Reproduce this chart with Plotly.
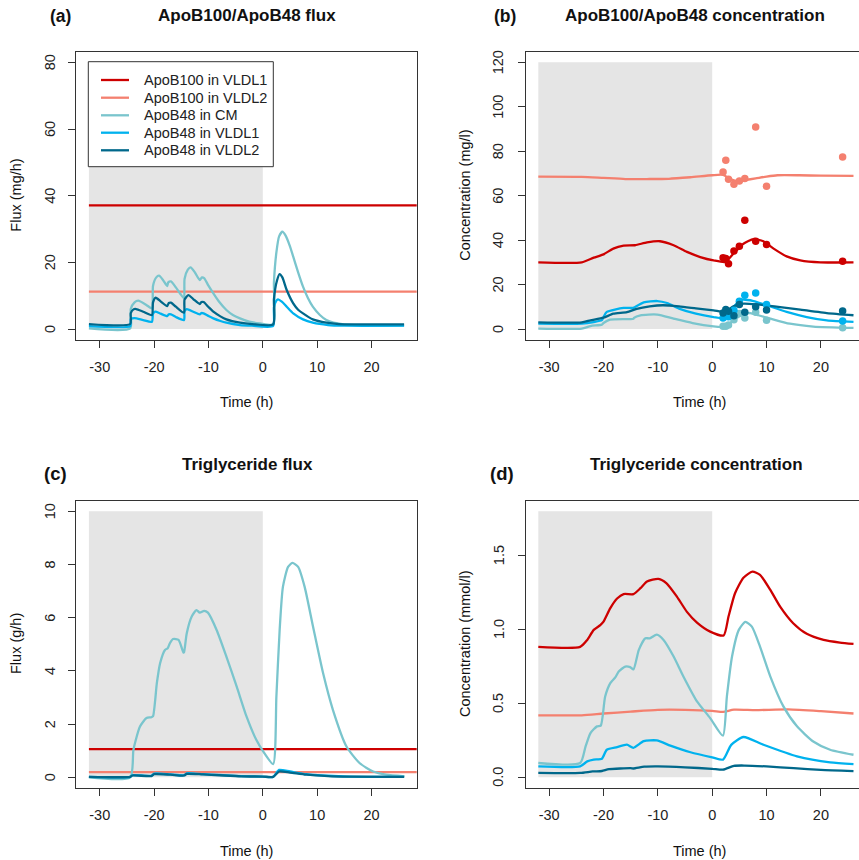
import plotly.graph_objects as go

W, H = 859, 860
FONT = "Liberation Sans, Arial, sans-serif"

# colours
C_B100_V1 = "#CD0000"
C_B100_V2 = "#F4806F"
C_CM = "#7AC5CD"
C_V1 = "#00B2EE"
C_V2 = "#00688B"

names = ["ApoB100 in VLDL1", "ApoB100 in VLDL2", "ApoB48 in CM", "ApoB48 in VLDL1", "ApoB48 in VLDL2"]
colors = [C_B100_V1, C_B100_V2, C_CM, C_V1, C_V2]

# ---------------- (a) ApoB100/ApoB48 flux (mg/h) ----------------
a_t_b100 = [-32, 29]
a_b100_v1 = [37.1, 37.1]
a_b100_v2 = [11.2, 11.2]

a_t_cm = [-32, -24.4, -24.3, -23.6, -22.9, -21.5, -20.4, -20.2, -19.6, -19.1, -18.4, -17.6, -17.4, -16.9,
          -16.0, -15.2, -14.5, -14.4, -13.8, -13.3, -12.5, -11.6, -11.2, -10.8, -10.0, -9.1, -8.0, -6.7,
          -5.5, -4.2, -2.5, -0.5, 1.9, 2.05, 2.5, 3.0, 3.6, 4.2, 5.0, 5.6, 6.5, 7.4, 8.3, 9.2, 10.5, 11.7,
          13.0, 14.6, 17.0, 20.0, 26.0]
a_cm = [0.2, 0.2, 6.0, 8.0, 8.5, 7.3, 6.2, 13.0, 15.5, 16.0, 14.8, 12.9, 14.0, 14.3,
        12.5, 10.6, 9.2, 15.0, 17.8, 18.5, 17.0, 14.7, 15.5, 15.3, 13.0, 10.7, 8.1, 5.7,
        4.2, 3.2, 2.2, 1.7, 1.4, 14.0, 23.0, 27.8, 29.2, 28.0, 24.8, 21.7, 17.0, 12.7, 9.3, 6.7, 4.2, 2.7,
        1.9, 1.5, 1.2, 1.0, 1.0]

a_t_v2 = [-32, -24.4, -24.3, -23.8, -23.3, -22.0, -20.4, -20.2, -19.7, -18.8, -17.6, -17.3, -16.9, -16.0,
          -14.5, -14.4, -13.7, -12.8, -11.6, -11.3, -10.9, -10.0, -9.1, -7.8, -6.7, -4.2, -2.0, 1.9, 2.05,
          2.6, 3.1, 3.6, 4.4, 5.6, 6.5, 7.4, 9.2, 11.7, 14.0, 26.0]
a_v2 = [1.5, 1.5, 4.8, 5.9, 6.0, 5.2, 4.2, 8.0, 9.4, 8.3, 6.9, 7.8, 7.9, 6.7,
        4.9, 8.8, 10.2, 9.0, 7.5, 8.1, 8.1, 6.6, 5.2, 3.8, 2.9, 1.9, 1.5, 1.4, 9.0,
        14.5, 16.5, 15.5, 11.7, 7.7, 5.8, 4.7, 2.9, 1.9, 1.5, 1.4]

a_t_v1 = [-32, -24.4, -24.3, -23.6, -22.0, -20.4, -20.2, -19.8, -18.8, -17.6, -17.3, -16.9, -16.0, -14.5,
          -14.4, -14.0, -12.8, -11.6, -11.3, -10.9, -10.0, -9.1, -7.8, -6.7, -4.2, -2.0, 1.9, 2.05, 2.5,
          2.8, 3.5, 4.4, 5.6, 7.4, 9.2, 12.0, 15.0, 26.0]
a_v1 = [0.9, 0.9, 3.0, 3.3, 2.7, 2.2, 4.6, 5.2, 4.6, 3.9, 4.4, 4.4, 3.6, 2.7,
        5.3, 6.0, 5.2, 4.4, 4.8, 4.7, 3.9, 3.2, 2.4, 1.9, 1.2, 1.0, 0.9, 6.5, 8.5,
        8.9, 8.2, 6.7, 4.7, 2.9, 1.9, 1.2, 1.0, 1.0]

# ---------------- (b) ApoB100/ApoB48 concentration (mg/l) ----------------
b_t_b100v1 = [-32, -24, -21.8, -20, -18.2, -16.3, -14.2, -12, -9.6, -7.1, -4.65, -2.2, 0.25, 2.4, 3.9,
              5.75, 7.6, 9.4, 11.3, 13.7, 16.2, 19.9, 26]
b_b100v1 = [30.0, 30.0, 32.1, 33.6, 36.2, 37.5, 37.7, 39.0, 39.5, 37.7, 34.7, 32.4, 30.9, 30.2, 33.9,
            38.4, 40.5, 39.5, 36.2, 32.7, 30.9, 30.0, 30.0]
b_t_b100v2 = [-32, -24, -20, -16, -12, -8, -4, 0, 2, 3, 4, 5, 6, 8, 10, 12, 16, 20, 26]
b_b100v2 = [68.6, 68.5, 68.0, 67.5, 67.5, 67.6, 68.3, 69.2, 69.4, 68.0, 66.9, 66.6, 67.0, 67.8, 68.6,
            69.2, 69.2, 69.0, 68.9]
b_t_cm = [-32, -24, -22.4, -20.3, -20, -18.8, -14.5, -14.4, -13.2, -10.1, -7.1, -3.6, 0.25, 2.0, 2.4,
          3.9, 5.5, 7.0, 8.5, 10.7, 14.3, 18.6, 26]
b_cm = [0.2, 0.2, 1.35, 2.0, 2.7, 4.2, 4.6, 5.0, 6.2, 6.5, 4.7, 2.7, 1.2, 0.9, 0.9,
        3.9, 6.5, 7.2, 6.2, 4.7, 2.4, 1.1, 0.5]
b_t_v1 = [-32, -24, -21.8, -20.3, -20, -19.4, -16.3, -14.5, -14.2, -12.6, -10.1, -8.3, -6.1, -3, 0.25,
          2.1, 3.9, 5.4, 7.6, 10, 13.7, 17.4, 21.1, 26]
b_v1 = [2.4, 2.4, 3.15, 4.0, 5.4, 7.7, 9.5, 9.5, 9.9, 12.0, 12.6, 11.7, 9.2, 6.9, 5.4,
        4.95, 9.9, 13.2, 12.6, 10.7, 7.7, 5.4, 3.9, 3.2]
b_t_v2 = [-32, -24, -22.4, -20, -18.2, -15.7, -13.9, -11.5, -9.1, -6.1, -3.0, 0.25, 2.4, 3.9, 5.75,
          8.2, 12.5, 16.2, 21.1, 26]
b_v2 = [3.0, 3.0, 3.9, 5.1, 6.9, 7.6, 9.1, 10.2, 10.7, 10.2, 9.3, 8.4, 7.7, 10.2, 11.4,
        11.1, 9.9, 8.7, 7.2, 6.2]

# observed samples
obs_t = [2, 2.5, 3, 4, 5, 6, 8, 10, 24]
obs_b100v2 = [70.7, 75.9, 67.4, 65.1, 66.6, 67.7, 90.9, 64.2, 77.4]
obs_b100v1 = [32.1, 31.7, 29.4, 35.1, 37.2, 48.9, 39.5, 38.0, 30.5]
obs_cm = [1.2, 1.3, 1.8, 4.2, 7.0, 5.0, 7.5, 4.0, 0.6]
obs_v1 = [5.0, 6.5, 5.5, 8.5, 12.5, 15.2, 16.2, 11.0, 3.6]
obs_v2 = [7.2, 8.8, 8.0, 6.0, 11.0, 7.5, 10.0, 8.6, 8.1]

# ---------------- (c) Triglyceride flux (g/h) ----------------
c_t_b100 = [-32, 29]
c_v1_const = [1.065, 1.065]
c_v2_const = [0.2, 0.2]
c_t_cm = [-32, -24.4, -23.8, -22.6, -21.4, -20.5, -20.2, -19.5, -18.9, -18.0, -17.5, -17.1, -16.5, -15.5,
          -14.6, -14.5, -14.0, -13.1, -12.2, -11.6, -10.8, -10.1, -8.5, -6.7, -4.8, -3.0, -1.2, 0.06, 1.9,
          2.5, 3.1, 3.7, 4.65, 5.45, 6.5, 7.7, 9.25, 11.1, 12.9, 15.4, 17.8, 20.3, 22.7, 26.1]
c_cm = [0.0, 0.0, 1.04, 1.91, 2.23, 2.26, 2.3, 3.54, 4.29, 4.79, 4.85, 5.04, 5.2, 5.17,
        4.69, 4.7, 5.41, 6.04, 6.29, 6.19, 6.26, 6.19, 5.54, 4.54, 3.41, 2.29, 1.41, 0.98, 0.5,
        3.04, 5.54, 7.16, 7.91, 8.06, 7.91, 7.16, 5.66, 3.91, 2.54, 1.16, 0.54, 0.22, 0.10, 0.04]
c_t_small = [-32, -24.4, -24.0, -20.5, -20.0, -17.0, -14.5, -14.0, -11.0, -8.0, -4.0, 0.0, 1.9, 3.0, 5.0,
             8.0, 12.0, 16.0, 26.0]
c_v1 = [0.02, 0.02, 0.08, 0.06, 0.14, 0.11, 0.08, 0.15, 0.12, 0.09, 0.05, 0.03, 0.02, 0.28, 0.22,
        0.12, 0.06, 0.03, 0.02]
c_v2 = [0.02, 0.02, 0.07, 0.05, 0.12, 0.10, 0.07, 0.13, 0.11, 0.08, 0.04, 0.03, 0.02, 0.22, 0.18,
        0.10, 0.05, 0.03, 0.02]

# ---------------- (d) Triglyceride concentration (mmol/l) ----------------
d_t_b100v1 = [-32, -24.3, -23.0, -21.8, -20.6, -20.0, -18.75, -17.5, -16.3, -14.5, -13.2, -12.0, -9.9, -8.4,
              -6.5, -4.65, -2.8, -0.37, 2.1, 3.0, 4.2, 5.75, 7.4, 8.8, 10.7, 12.5, 14.9, 17.4, 20.5, 23.5, 26.0]
d_b100v1 = [0.883, 0.883, 0.93, 0.998, 1.03, 1.054, 1.145, 1.21, 1.24, 1.24, 1.28, 1.325, 1.343, 1.313,
            1.223, 1.12, 1.047, 0.986, 0.96, 1.088, 1.246, 1.351, 1.392, 1.37, 1.268, 1.155, 1.043, 0.971,
            0.93, 0.912, 0.903]
d_t_b100v2 = [-32, -24, -20, -15, -10, -5, 0, 2, 4, 8, 14, 20, 26]
d_b100v2 = [0.42, 0.42, 0.432, 0.445, 0.457, 0.457, 0.45, 0.443, 0.458, 0.455, 0.46, 0.448, 0.432]
d_t_cm = [-32, -24.3, -23.3, -22.4, -21.2, -20.5, -19.7, -18.75, -17.8, -17.2, -16.0, -15.1, -14.5, -13.5,
          -12.3, -11.5, -10.2, -8.95, -7.1, -5.3, -2.8, -0.37, 1.97, 2.7, 3.65, 4.9, 6.1, 7.3, 8.8, 10.7,
          13.1, 15.6, 18.6, 21.7, 26.0]
d_cm = [0.097, 0.097, 0.21, 0.30, 0.345, 0.35, 0.547, 0.638, 0.678, 0.716, 0.75, 0.746, 0.73, 0.863,
        0.942, 0.94, 0.966, 0.93, 0.818, 0.683, 0.514, 0.401, 0.282, 0.547, 0.818, 0.998, 1.052, 1.02,
        0.885, 0.682, 0.48, 0.345, 0.243, 0.187, 0.153]
d_t_v1 = [-32, -24.3, -23.0, -21.8, -20.3, -19.4, -17.5, -15.7, -14.5, -12.6, -10.2, -7.7, -4.0, 0.0, 2.0,
          3.5, 5.75, 9.4, 15.6, 21.7, 26.0]
d_v1 = [0.075, 0.075, 0.108, 0.12, 0.126, 0.187, 0.205, 0.221, 0.2, 0.245, 0.25, 0.215, 0.17, 0.135, 0.12,
        0.22, 0.273, 0.221, 0.142, 0.101, 0.09]
d_t_v2 = [-32, -24.3, -22.0, -20.3, -19.0, -15.0, -14.5, -12.5, -10.0, -5.0, 0.0, 2.0, 4.0, 6.0, 10.0,
          15.0, 20.0, 26.0]
d_v2 = [0.03, 0.03, 0.04, 0.043, 0.055, 0.062, 0.06, 0.072, 0.074, 0.068, 0.058, 0.052, 0.078, 0.08,
        0.074, 0.062, 0.05, 0.042]

# tick labels
x_ticks = [-30, -20, -10, 0, 10, 20]
x_ticktext = ["-30", "-20", "-10", "0", "10", "20"]
a_yticks = [0, 20, 40, 60, 80]
b_yticks = [0, 20, 40, 60, 80, 100, 120]
c_yticks = [0, 2, 4, 6, 8, 10]
d_yticks = [0.0, 0.5, 1.0, 1.5]
d_yticktext = ["0.0", "0.5", "1.0", "1.5"]

fasting_window = [-32, 0]
shade_top = {"a": 80, "b": 120, "c": 10, "d": 1.8}

# ---------------- figure ----------------
fig = go.Figure()
LW = 2.3


def line(x, y, color, xa, ya, width=LW, smooth=True):
    shape = dict(shape="spline", smoothing=0.6) if smooth else dict(shape="linear")
    fig.add_trace(go.Scatter(x=x, y=y, mode="lines", line=dict(color=color, width=width, **shape),
                             xaxis=xa, yaxis=ya, showlegend=False, hoverinfo="skip"))


def dots(x, y, color, xa, ya):
    fig.add_trace(go.Scatter(x=x, y=y, mode="markers", marker=dict(color=color, size=7.5),
                             xaxis=xa, yaxis=ya, showlegend=False, hoverinfo="skip"))


# (a)
line(a_t_b100, a_b100_v1, C_B100_V1, "x", "y", smooth=False)
line(a_t_b100, a_b100_v2, C_B100_V2, "x", "y", smooth=False)
line(a_t_cm, a_cm, C_CM, "x", "y")
line(a_t_v1, a_v1, C_V1, "x", "y")
line(a_t_v2, a_v2, C_V2, "x", "y")
# (b)
line(b_t_b100v2, b_b100v2, C_B100_V2, "x2", "y2")
line(b_t_b100v1, b_b100v1, C_B100_V1, "x2", "y2")
line(b_t_cm, b_cm, C_CM, "x2", "y2")
line(b_t_v1, b_v1, C_V1, "x2", "y2")
line(b_t_v2, b_v2, C_V2, "x2", "y2")
dots(obs_t, obs_b100v2, C_B100_V2, "x2", "y2")
dots(obs_t, obs_b100v1, C_B100_V1, "x2", "y2")
dots(obs_t, obs_cm, C_CM, "x2", "y2")
dots(obs_t, obs_v1, C_V1, "x2", "y2")
dots(obs_t, obs_v2, C_V2, "x2", "y2")
# (c)
line(c_t_b100, c_v1_const, C_B100_V1, "x3", "y3", smooth=False)
line(c_t_b100, c_v2_const, C_B100_V2, "x3", "y3", smooth=False)
line(c_t_cm, c_cm, C_CM, "x3", "y3")
line(c_t_small, c_v1, C_V1, "x3", "y3")
line(c_t_small, c_v2, C_V2, "x3", "y3")
# (d)
line(d_t_b100v1, d_b100v1, C_B100_V1, "x4", "y4")
line(d_t_b100v2, d_b100v2, C_B100_V2, "x4", "y4")
line(d_t_cm, d_cm, C_CM, "x4", "y4")
line(d_t_v1, d_v1, C_V1, "x4", "y4")
line(d_t_v2, d_v2, C_V2, "x4", "y4")

# layout geometry (pixels -> paper)
xl_left = [76.3 / W, 416.7 / W]
xl_right = [525.7 / W, 1.0]
yd_top = [1 - 339.7 / H, 1 - 51.7 / H]
yd_bot = [1 - 788.0 / H, 1 - 500.7 / H]
pxh = (416.7 - 76.3) / 62.64
xr_left = [-34.32, 28.32]
xr_right = [-34.32, -34.32 + (W - 525.7) / pxh]

AX = dict(showline=True, mirror=True, linecolor="#333", linewidth=1, ticks="outside", ticklen=7,
          tickcolor="#333", showgrid=False, zeroline=False, tickfont=dict(family=FONT, size=14.5, color="#222"))


def xax(domain, rng, anchor):
    return dict(AX, domain=domain, range=rng, anchor=anchor, tickvals=x_ticks, ticktext=x_ticktext,
                ticklabelstandoff=7)


def yax(domain, rng, anchor, vals):
    return dict(AX, domain=domain, range=rng, anchor=anchor, tickvals=vals, showticklabels=False)


fig.update_layout(
    width=W, height=H, margin=dict(l=0, r=0, t=0, b=0),
    paper_bgcolor="white", plot_bgcolor="white", showlegend=False,
    font=dict(family=FONT, size=14.5, color="#222"),
    xaxis=xax(xl_left, xr_left, "y"),
    yaxis=yax(yd_top, [-3.2, 83.2], "x", a_yticks),
    xaxis2=xax(xl_right, xr_right, "y2"),
    yaxis2=yax(yd_top, [-4.8, 124.8], "x2", b_yticks),
    xaxis3=xax(xl_left, xr_left, "y3"),
    yaxis3=yax(yd_bot, [-0.4, 10.4], "x3", c_yticks),
    xaxis4=xax(xl_right, xr_right, "y4"),
    yaxis4=yax(yd_bot, [-0.072, 1.872], "x4", d_yticks),
)


def px(x):
    return x / W


def py(y):
    return 1 - y / H


# rotated y tick labels (R style), placed on the y scale of each panel
for ya, vals, texts, xpos in [("y", a_yticks, [str(v) for v in a_yticks], 50),
                              ("y2", b_yticks, [str(v) for v in b_yticks], 498),
                              ("y3", c_yticks, [str(v) for v in c_yticks], 50),
                              ("y4", d_yticks, d_yticktext, 498.5)]:
    for v, tx in zip(vals, texts):
        fig.add_annotation(text=tx, x=px(xpos), y=v, xref="paper", yref=ya, showarrow=False,
                           textangle=-90, xanchor="center", yanchor="middle",
                           font=dict(family=FONT, size=14.5, color="#222"))

# fasting shading
for xa, ya, key in [("x", "y", "a"), ("x2", "y2", "b"), ("x3", "y3", "c"), ("x4", "y4", "d")]:
    fig.add_shape(type="rect", xref=xa, yref=ya, x0=fasting_window[0], x1=fasting_window[1],
                  y0=0, y1=shade_top[key], fillcolor="#E5E5E5", line=dict(width=0), layer="below")

# legend box (panel a)
fig.add_shape(type="rect", xref="paper", yref="paper", x0=px(88.3), x1=px(273.3), y0=py(166.7), y1=py(61.7),
              fillcolor="white", line=dict(color="#333", width=1), layer="above")
leg_y = [80, 97.7, 115.3, 132.7, 150.3]
for nm, col, yy in zip(names, colors, leg_y):
    fig.add_shape(type="line", xref="paper", yref="paper", x0=px(101), x1=px(129), y0=py(yy), y1=py(yy),
                  line=dict(color=col, width=LW), layer="above")
    fig.add_annotation(text=nm, x=px(141.5), y=py(yy), xref="paper", yref="paper", showarrow=False,
                       xanchor="left", yanchor="middle", font=dict(family=FONT, size=14.5, color="#222"))


def ann(text, x, y, size=14.5, bold=False, angle=0):
    fig.add_annotation(text=f"<b>{text}</b>" if bold else text, x=px(x), y=py(y), xref="paper",
                       yref="paper", showarrow=False, textangle=angle, xanchor="center", yanchor="middle",
                       font=dict(family=FONT, size=size, color="#111"))


ann("ApoB100/ApoB48 flux", 247, 16, 17, True)
ann("ApoB100/ApoB48 concentration", 695, 16, 17, True)
ann("Triglyceride flux", 247, 465, 17, True)
ann("Triglyceride concentration", 696, 465, 17, True)
ann("(a)", 60, 16, 17.5, True)
ann("(b)", 505, 16, 17.5, True)
ann("(c)", 55, 473, 18.5, True)
ann("(d)", 502, 473, 18.5, True)
ann("Time (h)", 246.5, 401.5, 14.5)
ann("Time (h)", 699, 401.5, 14.5)
ann("Time (h)", 246.5, 850.5, 14.5)
ann("Time (h)", 699, 850.5, 14.5)
ann("Flux (mg/h)", 16, 195.7, 14.5, angle=-90)
ann("Concentration (mg/l)", 465, 195.7, 14.5, angle=-90)
ann("Flux (g/h)", 16, 644, 14.5, angle=-90)
ann("Concentration (mmol/l)", 465, 644, 14.5, angle=-90)

fig.write_html("out.html", config={"displayModeBar": False},
               post_script="document.body.style.margin='0';document.body.style.padding='0';")
